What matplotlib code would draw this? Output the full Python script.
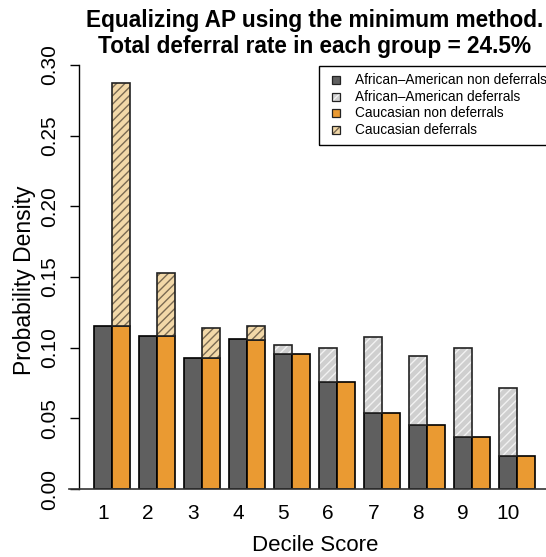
import numpy as np
import matplotlib.pyplot as plt
from matplotlib.patches import Rectangle

plt.rcParams['font.family'] = ['Liberation Sans', 'DejaVu Sans']
plt.rcParams['hatch.linewidth'] = 1.0

# 数据：每个十分位的概率密度
deciles = ['1', '2', '3', '4', '5', '6', '7', '8', '9', '10']
aa_nondef = [0.115, 0.1085, 0.093, 0.106, 0.0953, 0.0755, 0.0536, 0.0451, 0.037, 0.0236]
aa_total = [0.115, 0.1085, 0.093, 0.106, 0.102, 0.100, 0.1076, 0.0943, 0.100, 0.0717]
cau_nondef = [0.115, 0.1085, 0.093, 0.1055, 0.0953, 0.0755, 0.0536, 0.0451, 0.037, 0.0236]
cau_total = [0.2875, 0.153, 0.1137, 0.1154, 0.0953, 0.0755, 0.0536, 0.0451, 0.037, 0.0236]

labels = ['African\u2013American non deferrals', 'African\u2013American deferrals',
          'Caucasian non deferrals', 'Caucasian deferrals']

GRAY = '#5f5f5f'
ORANGE = '#ea9a32'
AA_DEF = '#cfcfcf'
AA_HATCH = '#f2f2f2'
CAU_DEF = '#f2d8a8'
CAU_HATCH = '#7a6a52'

W, H = 546, 557
fig = plt.figure(figsize=(W / 100, H / 100), dpi=100)
ax = fig.add_axes([69 / W, 68 / H, 477 / W, 424 / H])


def px(x, y):
    # 像素坐标(左上原点) -> figure坐标
    return x / W, 1 - y / H


x_aa = 1 + 2.5 * np.arange(len(deciles))
x_cau = x_aa + 1
aa_nondef = np.array(aa_nondef)
aa_total = np.array(aa_total)
cau_nondef = np.array(cau_nondef)
cau_total = np.array(cau_total)

ax.bar(x_aa, aa_nondef, width=1, color=GRAY, edgecolor='black', linewidth=1.2, zorder=2)
ax.bar(x_cau, cau_nondef, width=1, color=ORANGE, edgecolor='black', linewidth=1.2, zorder=2)

# 延期部分：堆叠在非延期之上，带斜线
aa_d = aa_total - aa_nondef
cau_d = cau_total - cau_nondef
m = aa_d > 0
ax.bar(x_aa[m], aa_d[m], bottom=aa_nondef[m], width=1, color=AA_DEF, edgecolor=AA_HATCH,
       hatch='////', linewidth=0, zorder=2)
ax.bar(x_aa[m], aa_d[m], bottom=aa_nondef[m], width=1, fill=False, edgecolor='#222222',
       linewidth=1.2, zorder=3)
m = cau_d > 0
ax.bar(x_cau[m], cau_d[m], bottom=cau_nondef[m], width=1, color=CAU_DEF, edgecolor=CAU_HATCH,
       hatch='////', linewidth=0, zorder=2)
ax.bar(x_cau[m], cau_d[m], bottom=cau_nondef[m], width=1, fill=False, edgecolor='#222222',
       linewidth=1.2, zorder=3)

ax.set_xlim(-0.9, 25.6)
ax.set_ylim(0, 0.30)
ax.axhline(0, color='#333333', linewidth=1.2, zorder=4, clip_on=False)

for s in ['top', 'right', 'bottom']:
    ax.spines[s].set_visible(False)
ax.spines['left'].set_position(('data', -0.35))
ax.spines['left'].set_bounds(0, 0.30)
ax.spines['left'].set_linewidth(1.0)

ax.set_yticks(np.arange(0, 0.301, 0.05))
ax.set_yticklabels([f'{v:.2f}' for v in np.arange(0, 0.301, 0.05)], rotation=90, va='center')
ax.tick_params(axis='y', length=6.5, width=1.0, pad=8, labelsize=15)
ax.set_xticks(x_aa)
ax.set_xticklabels(deciles)
ax.tick_params(axis='x', length=0, pad=11, labelsize=15)

fig.text(*px(25, 280), 'Probability Density', rotation=90, ha='center', va='center', fontsize=16.5)
fig.text(*px(315, 551), 'Decile Score', ha='center', va='baseline', fontsize=16)

fig.text(*px(315, 26.7), 'Equalizing AP using the minimum method.', ha='center', va='baseline',
         fontsize=16.3, fontweight='bold')
fig.text(*px(315, 52.7), 'Total deferral rate in each group = 24.5%', ha='center', va='baseline',
         fontsize=16.3, fontweight='bold')

# 图例（手动绘制）
x0, y0 = px(319, 145)
x1, y1 = px(560, 66)
fig.patches.append(Rectangle((x0, y0), x1 - x0, y1 - y0, transform=fig.transFigure,
                             fill=False, edgecolor='black', linewidth=1.0))
styles = [dict(facecolor=GRAY, hatch=None), dict(facecolor=AA_DEF, hatch='////'),
          dict(facecolor=ORANGE, hatch=None), dict(facecolor=CAU_DEF, hatch='////')]
hatch_cols = [GRAY, AA_HATCH, ORANGE, CAU_HATCH]
for i, (lab, st) in enumerate(zip(labels, styles)):
    yc = 80 + i * 16.7
    sx, sy = px(332, yc + 4)
    sw, sh = 8 / W, 8 / H
    fig.patches.append(Rectangle((sx, sy), sw, sh, transform=fig.transFigure,
                                 facecolor=st['facecolor'], edgecolor=hatch_cols[i],
                                 hatch=st['hatch'], linewidth=0))
    fig.patches.append(Rectangle((sx, sy), sw, sh, transform=fig.transFigure,
                                 fill=False, edgecolor='#222222', linewidth=0.9))
    fig.text(*px(355, yc), lab, ha='left', va='center', fontsize=9.8)

fig.savefig('out.png', dpi=100)
